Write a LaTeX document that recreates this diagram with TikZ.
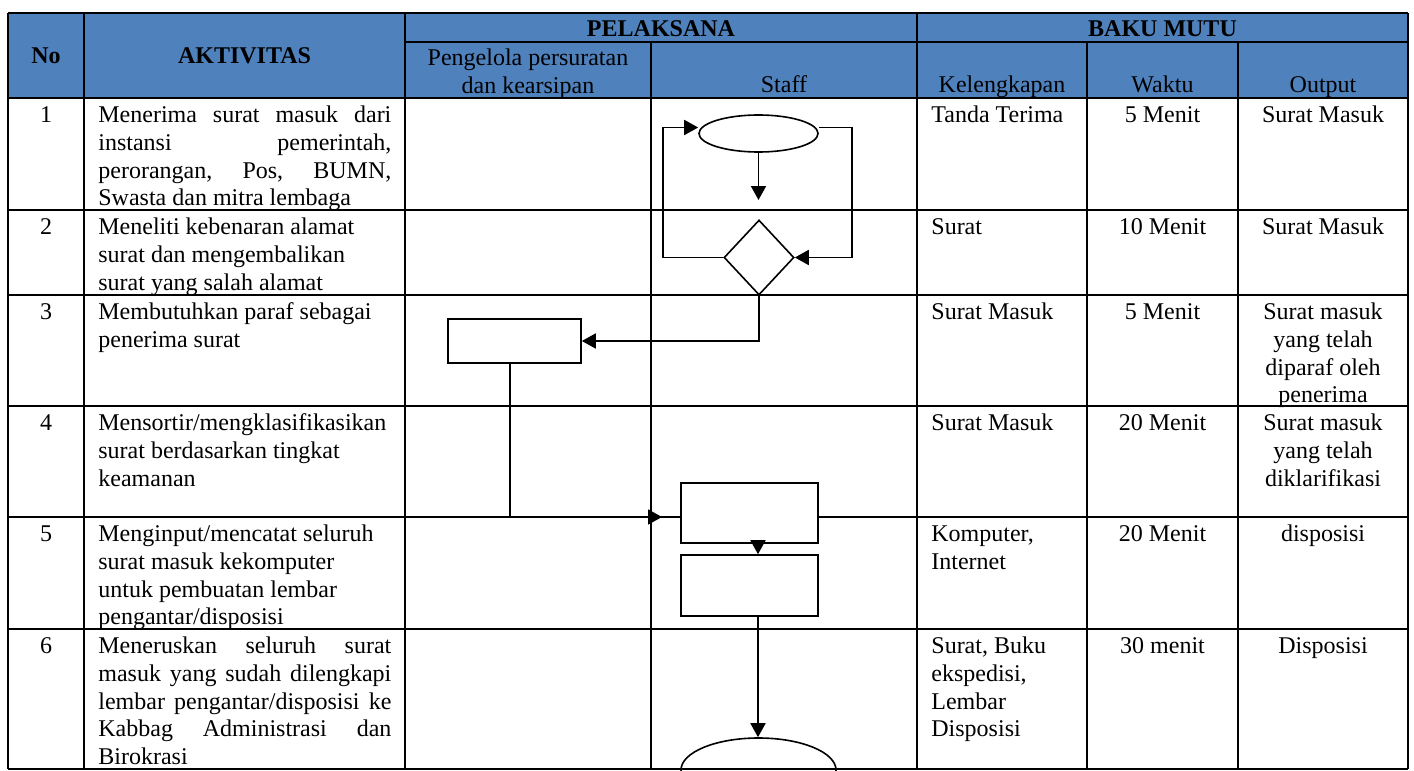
\documentclass[tikz,border=0pt]{standalone}
\usepackage{fontspec}
\setmainfont{Liberation Serif}
\usetikzlibrary{shapes.geometric,arrows.meta}
\definecolor{hdr}{RGB}{79,129,189}
\newcommand\st{\rule{0pt}{12pt}}
\newcommand\jl[1]{\makebox[146.5pt][s]{#1}}
\begin{document}
\begin{tikzpicture}[x=0.5pt,y=-0.5pt,
  tl/.style={line width=1.1pt},
  shp/.style={draw, line width=0.8pt, fill=white, inner sep=0pt},
  arr/.style={line width=0.9pt, -{Triangle[length=7pt,width=7.5pt]}},
  txt/.style={inner sep=0pt, font=\fontsize{12}{13.8}\selectfont},
  hd/.style={inner sep=0pt, font=\fontsize{12}{13.8}\selectfont\bfseries, anchor=base},
  hn/.style={txt, anchor=base},
  bc/.style={txt, anchor=north, align=center},
  bl/.style={txt, anchor=north west, align=left}]
\useasboundingbox (0,0) rectangle (1414,771);
\clip (0,0) rectangle (1414,771);
\fill[white] (0,0) rectangle (1414,771);
% header fill
\fill[hdr] (8,13) rectangle (1408,98);
% grid
\draw[tl] (8,13) -- (1408,13);
\draw[tl] (405,42) -- (1408,42);
\foreach \y in {98,210,295,406,517,629} \draw[tl] (8,\y) -- (1408,\y);
\foreach \x in {8,84,405,917,1408} \draw[tl] (\x,13) -- (\x,769);
\foreach \x in {651,1087,1238} \draw[tl] (\x,42) -- (\x,769);
% shapes
\node[shp, ellipse, minimum width=59.5pt, minimum height=18.5pt] (E1) at (758.5,133.5) {};
\node[shp, diamond, minimum width=35pt, minimum height=37.5pt] (D) at (759,257.5) {};
\node[shp, rectangle, minimum width=66.5pt, minimum height=22pt] (A) at (514.5,341) {};
\node[shp, rectangle, minimum width=68.5pt, minimum height=30pt] (B) at (749.5,513) {};
\node[shp, rectangle, minimum width=68.5pt, minimum height=30.5pt] (C) at (749.5,585.5) {};
\node[shp, ellipse, minimum width=77.5pt, minimum height=32pt] (E2) at (758.5,770) {};
\coordinate (t1) at (758.5,200);
\coordinate (t2) at (662,517);
\coordinate (cL) at (663,0);
\coordinate (cR) at (852,0);
% connectors
\draw[arr] (E1.south) -- (t1);
\draw[arr] (D.west) -- (D.west -| cL) |- ([yshift=3pt]E1.west);
\draw[arr] ([yshift=3pt]E1.east) -- ([yshift=3pt]E1.east -| cR) |- (D.east);
\draw[arr] (D.south) |- (A.east);
\draw[arr] ([xshift=-2.25pt]A.south) |- (t2);
\draw[arr] ([xshift=4.25pt]B.south) -- ([xshift=4.25pt]C.north);
\draw[arr] ([xshift=4.25pt]C.south) -- ([xshift=4.25pt]C.south |- E2.north);
\draw[tl] (8,769) -- (1408,769);
% header text
\node[hd] (hNo) at (46,63) {No};
\node[hd] (hAkt) at (244.5,63) {AKTIVITAS};
\node[hd] (hPel) at (661,36) {PELAKSANA};
\node[hd] (hBaku) at (1162.5,36) {BAKU MUTU};
\node[bc] (hPeng) at (528,41) {\st Pengelola persuratan\\dan kearsipan};
\node[hn] (hStaff) at (784,92.5) {Staff};
\node[hn] (hKel) at (1002,92.5) {Kelengkapan};
\node[hn] (hWak) at (1162.5,92.5) {Waktu};
\node[hn] (hOut) at (1323,92.5) {Output};
% row 1
\node[bc] (n1) at (46,98.5) {\st 1};
\node[bl] (a1) at (98,98.5) {\st\jl{Menerima surat masuk dari}\\\jl{instansi pemerintah,}\\\jl{perorangan, Pos, BUMN,}\\Swasta dan mitra lembaga};
\node[bl] (k1) at (931,98.5) {\st Tanda Terima};
\node[bc] (w1) at (1162.5,98.5) {\st 5 Menit};
\node[bc] (o1) at (1323,98.5) {\st Surat Masuk};
% row 2
\node[bc] (n2) at (46,210.5) {\st 2};
\node[bl] (a2) at (98,210.5) {\st Meneliti kebenaran alamat\\surat dan mengembalikan\\surat yang salah alamat};
\node[bl] (k2) at (931,210.5) {\st Surat};
\node[bc] (w2) at (1162.5,210.5) {\st 10 Menit};
\node[bc] (o2) at (1323,210.5) {\st Surat Masuk};
% row 3
\node[bc] (n3) at (46,295.5) {\st 3};
\node[bl] (a3) at (98,295.5) {\st Membutuhkan paraf sebagai\\penerima surat};
\node[bl] (k3) at (931,295.5) {\st Surat Masuk};
\node[bc] (w3) at (1162.5,295.5) {\st 5 Menit};
\node[bc] (o3) at (1323,295.5) {\st Surat masuk\\yang telah\\diparaf oleh\\penerima};
% row 4
\node[bc] (n4) at (46,406.5) {\st 4};
\node[bl] (a4) at (98,406.5) {\st Mensortir/mengklasifikasikan\\surat berdasarkan tingkat\\keamanan};
\node[bl] (k4) at (931,406.5) {\st Surat Masuk};
\node[bc] (w4) at (1162.5,406.5) {\st 20 Menit};
\node[bc] (o4) at (1323,406.5) {\st Surat masuk\\yang telah\\diklarifikasi};
% row 5
\node[bc] (n5) at (46,517.5) {\st 5};
\node[bl] (a5) at (98,517.5) {\st Menginput/mencatat seluruh\\surat masuk kekomputer\\untuk pembuatan lembar\\pengantar/disposisi};
\node[bl] (k5) at (931,517.5) {\st Komputer,\\Internet};
\node[bc] (w5) at (1162.5,517.5) {\st 20 Menit};
\node[bc] (o5) at (1323,517.5) {\st disposisi};
% row 6
\node[bc] (n6) at (46,629.5) {\st 6};
\node[bl] (a6) at (98,629.5) {\st\jl{Meneruskan seluruh surat}\\\jl{masuk yang sudah dilengkapi}\\\jl{lembar pengantar/disposisi ke}\\\jl{Kabbag Administrasi dan}\\Birokrasi};
\node[bl] (k6) at (931,629.5) {\st Surat, Buku\\ekspedisi,\\Lembar\\Disposisi};
\node[bc] (w6) at (1162.5,629.5) {\st 30 menit};
\node[bc] (o6) at (1323,629.5) {\st Disposisi};
\end{tikzpicture}
\end{document}
